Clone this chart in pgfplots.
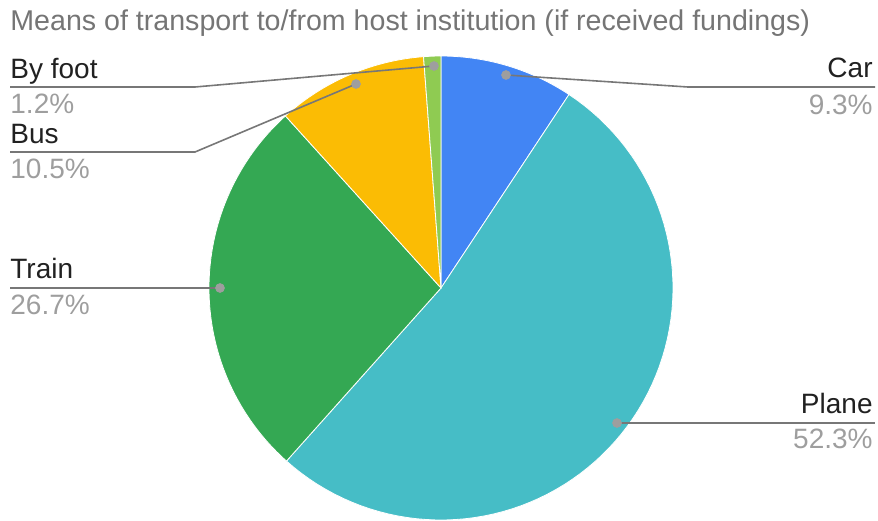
\documentclass[border=0pt]{standalone}
\usepackage{fontspec}
\setmainfont{Liberation Sans}
\usepackage{pgfplots}
\pgfplotsset{compat=1.18}

\definecolor{carc}{HTML}{4285F4}
\definecolor{planec}{HTML}{46BDC6}
\definecolor{trainc}{HTML}{34A853}
\definecolor{busc}{HTML}{FBBC04}
\definecolor{footc}{HTML}{8FCB52}
\definecolor{titlec}{HTML}{757575}
\definecolor{pctc}{HTML}{9E9E9E}
\definecolor{leadc}{HTML}{777777}
\definecolor{labc}{HTML}{212121}

\tikzset{
    lab/.style={anchor=base west, inner sep=0pt, font=\fontsize{14}{16}\selectfont, text=labc},
    pct/.style={anchor=base west, inner sep=0pt, font=\fontsize{14}{16}\selectfont, text=pctc},
    lead/.style={leadc, line width=0.8pt, mark=none},
    dot/.style={only marks, mark=*, mark size=2.2pt, draw=pctc, fill=pctc},
}

% pie centre and radius in pixel units, slices in percent
\def\cx{441}\def\cy{288}\def\rr{232}

\begin{document}
\begin{tikzpicture}
\begin{axis}[
    scale only axis,
    width=439pt, height=260pt,
    xmin=0, xmax=878, ymin=0, ymax=520,
    y dir=reverse,
    hide axis,
    samples=80,
]
% slices: Car 9.3, Plane 52.3, Train 26.7, Bus 10.5, By foot 1.2 (clockwise from top)
\addplot[fill=carc, draw=white, line width=0.4pt, domain=0:9.3]
    ({\cx+\rr*sin(3.6*x)}, {\cy-\rr*cos(3.6*x)}) -- (axis cs:\cx,\cy) -- cycle;
\addplot[fill=planec, draw=white, line width=0.4pt, domain=9.3:61.6]
    ({\cx+\rr*sin(3.6*x)}, {\cy-\rr*cos(3.6*x)}) -- (axis cs:\cx,\cy) -- cycle;
\addplot[fill=trainc, draw=white, line width=0.4pt, domain=61.6:88.3]
    ({\cx+\rr*sin(3.6*x)}, {\cy-\rr*cos(3.6*x)}) -- (axis cs:\cx,\cy) -- cycle;
\addplot[fill=busc, draw=white, line width=0.4pt, domain=88.3:98.8]
    ({\cx+\rr*sin(3.6*x)}, {\cy-\rr*cos(3.6*x)}) -- (axis cs:\cx,\cy) -- cycle;
\addplot[fill=footc, draw=white, line width=0.4pt, domain=98.8:100, samples=10]
    ({\cx+\rr*sin(3.6*x)}, {\cy-\rr*cos(3.6*x)}) -- (axis cs:\cx,\cy) -- cycle;

% leader lines
\addplot[lead] coordinates {(506,75) (688,87) (875,87)};
\addplot[lead] coordinates {(617,423) (875,423)};
\addplot[lead] coordinates {(220,288) (10,288)};
\addplot[lead] coordinates {(356,84) (195,152) (10,152)};
\addplot[lead] coordinates {(434,66) (195,87) (10,87)};
\addplot[dot] coordinates {(506,75) (617,423) (220,288) (356,84) (434,66)};

% title
\node[anchor=base west, inner sep=0pt, font=\fontsize{14.3}{16}\selectfont, text=titlec]
    at (axis cs:10,30) {Means of transport to/from host institution (if received fundings)};

% labels
\node[lab] at (axis cs:10,78) {By foot};
\node[pct] at (axis cs:10,113) {1.2\%};
\node[lab] at (axis cs:10,143) {Bus};
\node[pct] at (axis cs:10,178) {10.5\%};
\node[lab] at (axis cs:10,278) {Train};
\node[pct] at (axis cs:10,314) {26.7\%};
\node[lab, anchor=base east] at (axis cs:873,77) {Car};
\node[pct, anchor=base east] at (axis cs:873,114) {9.3\%};
\node[lab, anchor=base east] at (axis cs:873,413) {Plane};
\node[pct, anchor=base east] at (axis cs:873,448) {52.3\%};
\end{axis}
\pgfresetboundingbox
\path[use as bounding box] (current axis.south west) rectangle (current axis.north east);
\end{tikzpicture}
\end{document}
